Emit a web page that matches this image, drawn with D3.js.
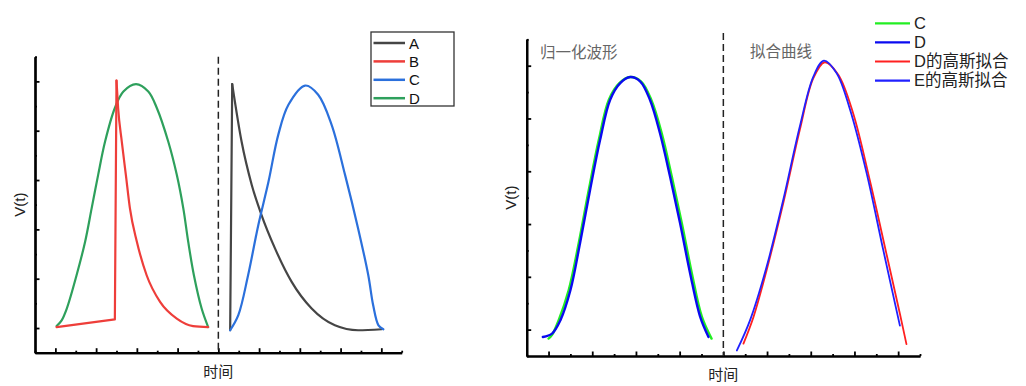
<!DOCTYPE html>
<html>
<head>
<meta charset="utf-8">
<script src="https://cdn.jsdelivr.net/npm/d3@7"></script>
<style>
  body { margin: 0; background: #fff; }
  text { font-family: "Liberation Sans", Arial, "Noto Sans CJK SC", sans-serif; }
</style>
</head>
<body>
<div id="chart"></div>
<script>
// left panel: raw pulses
const aX = [4.29, 4.34, 4.57, 4.82, 5.06, 5.39, 5.80, 6.29, 6.86, 7.43, 8.01];
const aY = [-0.009, 0.989, 0.756, 0.58, 0.458, 0.323, 0.187, 0.079, 0.011, -0.009, -0.005];
const bX = [0.03, 1.46, 1.50, 1.54, 1.63, 1.73, 1.83, 2.00, 2.24, 2.57, 2.98, 3.38, 3.75];
const bY = [0.004, 0.035, 1.003, 0.892, 0.756, 0.621, 0.485, 0.35, 0.214, 0.106, 0.038, 0.008, 0.004];
const cX = [4.29, 4.49, 4.73, 4.98, 5.23, 5.47, 5.72, 6.13, 6.45, 6.78, 7.11, 7.43, 7.68, 7.80, 7.93, 8.05];
const cY = [-0.009, 0.052, 0.214, 0.417, 0.593, 0.783, 0.905, 0.983, 0.946, 0.824, 0.621, 0.404, 0.214, 0.092, 0.011, -0.005];
const dX = [0.03, 0.15, 0.28, 0.52, 0.73, 0.89, 1.05, 1.22, 1.46, 1.67, 1.98, 2.28, 2.49, 2.77, 2.98, 3.14, 3.26, 3.40, 3.59, 3.75];
const dY = [0.008, 0.03, 0.079, 0.214, 0.35, 0.485, 0.621, 0.756, 0.892, 0.959, 0.989, 0.959, 0.892, 0.756, 0.621, 0.485, 0.35, 0.214, 0.079, 0.004];

// right panel: normalized waveforms and gaussian fits
const nCX = [0.00, 0.08, 0.23, 0.46, 0.69, 0.92, 1.15, 1.38, 1.62, 1.87, 2.12, 2.35, 2.59, 2.82, 3.05, 3.28, 3.51, 3.73];
const nCY = [-0.034, -0.02, 0.035, 0.149, 0.327, 0.529, 0.719, 0.871, 0.934, 0.957, 0.940, 0.871, 0.744, 0.580, 0.403, 0.213, 0.048, -0.034];
const nDX = [-0.13, 0.08, 0.27, 0.50, 0.72, 0.95, 1.18, 1.41, 1.64, 1.87, 2.10, 2.32, 2.55, 2.78, 3.01, 3.24, 3.47, 3.66];
const nDY = [-0.028, -0.015, 0.035, 0.149, 0.327, 0.529, 0.719, 0.871, 0.934, 0.957, 0.940, 0.871, 0.744, 0.580, 0.403, 0.213, 0.048, -0.028];
const fitDX = [4.46, 4.69, 4.99, 5.37, 5.75, 6.06, 6.32, 6.63, 6.97, 7.35, 7.73, 8.04, 8.19];
const fitDY = [-0.053, 0.048, 0.225, 0.479, 0.757, 0.953, 1.013, 0.966, 0.820, 0.567, 0.289, 0.06, -0.055];
const fitEX = [4.31, 4.61, 4.99, 5.37, 5.75, 6.06, 6.30, 6.59, 6.90, 7.28, 7.66, 8.04];
const fitEY = [-0.079, 0.035, 0.238, 0.491, 0.770, 0.959, 1.019, 0.972, 0.833, 0.592, 0.301, 0.015];

const xMajor = [0, 1, 2, 3, 4, 5, 6, 7, 8];
const xMinor = [-0.5, 0.5, 1.5, 2.5, 3.5, 4.5, 5.5, 6.5, 7.5, 8.5];
const yMajor = [0, 0.2, 0.4, 0.6, 0.8, 1.0];
const yMinor = [-0.1, 0.1, 0.3, 0.5, 0.7, 0.9, 1.1];
const splitAt = 4;

const leftNames = ["A", "B", "C", "D"];
const rightNames = ["C", "D", "D的高斯拟合", "E的高斯拟合"];

const svg = d3.select("#chart")
              .append("svg")
              .attr("width", 1026)
              .attr("height", 386);

const zip = (xs, ys) => xs.map((x, i) => ({x, y: ys[i]}));

function panel(cfg) {
  const x = d3.scaleLinear().domain([-0.5, 8.5]).range(cfg.xr);
  const y = d3.scaleLinear().domain([-0.1, 1.1]).range(cfg.yr);
  const g = svg.append("g");

  const addAxis = (axis, ticks, size, tr) => {
    const a = g.append("g")
               .attr("transform", tr)
               .call(axis.tickValues(ticks).tickSize(-size).tickSizeOuter(0).tickFormat(""));
    a.selectAll("line").attr("stroke", "#000").attr("stroke-width", 1.8);
    a.select(".domain").attr("stroke", "#000").attr("stroke-width", 2.2);
  };
  addAxis(d3.axisBottom(x), xMinor, 2, `translate(0,${cfg.yr[0]})`);
  addAxis(d3.axisBottom(x), xMajor, 4.5, `translate(0,${cfg.yr[0]})`);
  addAxis(d3.axisLeft(y), yMinor, 2, `translate(${cfg.xr[0]},0)`);
  addAxis(d3.axisLeft(y), yMajor, 4.5, `translate(${cfg.xr[0]},0)`);

  g.append("line")
   .attr("x1", x(splitAt)).attr("x2", x(splitAt))
   .attr("y1", cfg.dashTop).attr("y2", cfg.yr[0])
   .attr("stroke", "#222")
   .attr("stroke-width", 1.5)
   .attr("stroke-dasharray", "7,4");

  cfg.series.forEach(s => {
    // jump: points up to this index are joined by straight lines, the rest is smoothed
    const k = s.jump || 0;
    const straight = d3.line().x(d => x(d.x)).y(d => y(d.y));
    const smooth = d3.line().x(d => x(d.x)).y(d => y(d.y))
                     .curve(k ? d3.curveMonotoneX : d3.curveCatmullRom.alpha(0.5));
    const parts = k ? [straight(s.data.slice(0, k + 1)), smooth(s.data.slice(k))] : [smooth(s.data)];
    parts.forEach(p => {
      g.append("path")
       .attr("fill", "none")
       .attr("stroke", s.color)
       .attr("stroke-width", s.w)
       .attr("stroke-linejoin", "round")
       .attr("stroke-linecap", "round")
       .attr("d", p);
    });
  });

  g.append("text")
   .attr("transform", `translate(${cfg.ylabX},${(cfg.yr[0] + cfg.yr[1]) / 2}) rotate(-90)`)
   .attr("text-anchor", "middle")
   .style("font-size", "15px")
   .attr("fill", "#222")
   .text("V(t)");

  g.append("text")
   .attr("x", x(splitAt))
   .attr("y", cfg.yr[0] + 24)
   .attr("text-anchor", "middle")
   .style("font-family", "Noto Sans CJK SC")
   .style("font-size", "15px")
   .attr("fill", "#222")
   .text("时间");
  return {x, y, g};
}

const left = panel({
  xr: [35, 401.7], yr: [352.7, 56.7], dashTop: 56.7, ylabX: 25,
  series: [
    {data: zip(dX, dY), color: "#2ea05c", w: 2.2},
    {data: zip(aX, aY), color: "#454545", w: 2.2, jump: 1},
    {data: zip(bX, bY), color: "#ee3e3a", w: 2.2, jump: 2},
    {data: zip(cX, cY), color: "#2b70dc", w: 2.2}
  ]
});

const right = panel({
  xr: [526.7, 920], yr: [356, 39.3], dashTop: 33, ylabX: 516,
  series: [
    {data: zip(nCX, nCY), color: "#22ee22", w: 2.4},
    {data: zip(nDX, nDY), color: "#0a0af0", w: 2.4},
    {data: zip(fitDX, fitDY), color: "#ff2020", w: 1.8},
    {data: zip(fitEX, fitEY), color: "#2020ff", w: 1.8}
  ]
});

// left legend
const lg = svg.append("g");
lg.append("rect")
  .attr("x", 371).attr("y", 32).attr("width", 83).attr("height", 74)
  .attr("fill", "#fff").attr("stroke", "#333").attr("stroke-width", 1.3);
const leftColors = ["#454545", "#ee3e3a", "#2b70dc", "#2ea05c"];
leftNames.forEach((n, i) => {
  const yy = 43 + i * 18.4;
  lg.append("line").attr("x1", 373.5).attr("x2", 405).attr("y1", yy).attr("y2", yy)
    .attr("stroke", leftColors[i]).attr("stroke-width", 2.5);
  lg.append("text").attr("x", 409).attr("y", yy + 5.5)
    .style("font-size", "15px").attr("fill", "#111").text(n);
});

// right legend
const rg = svg.append("g");
const rightColors = ["#22ee22", "#0a0af0", "#ff2020", "#2020ff"];
rightNames.forEach((n, i) => {
  const yy = 23.3 + i * 19.1;
  rg.append("line").attr("x1", 875).attr("x2", 910).attr("y1", yy).attr("y2", yy)
    .attr("stroke", rightColors[i]).attr("stroke-width", 2.2);
  rg.append("text").attr("x", 914).attr("y", yy + 5.8)
    .style("font-size", "16.5px").attr("fill", "#222").text(n);
});

svg.append("text").attr("x", 540).attr("y", 58)
   .style("font-family", "Noto Sans CJK SC").style("font-size", "15.5px")
   .attr("fill", "#666").text("归一化波形");
svg.append("text").attr("x", 750).attr("y", 57)
   .style("font-family", "Noto Sans CJK SC").style("font-size", "15.5px")
   .attr("fill", "#666").text("拟合曲线");
</script>
</body>
</html>
